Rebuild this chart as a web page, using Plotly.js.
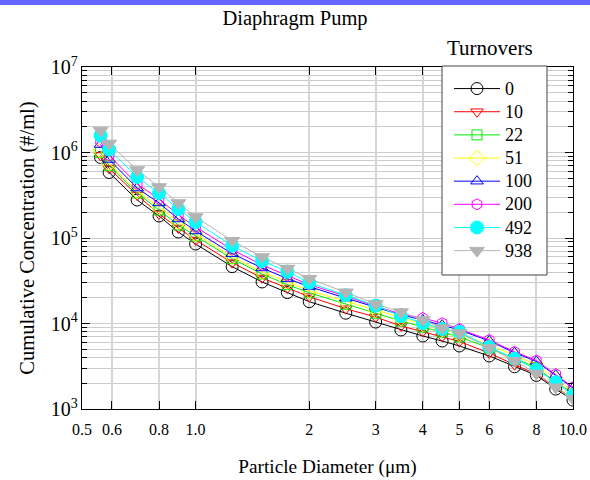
<!DOCTYPE html>
<html>
<head>
<meta charset="utf-8">
<script src="https://cdn.plot.ly/plotly-3.0.1.min.js"></script>
<style>html,body{margin:0;padding:0;background:#fff;}#chart{width:590px;height:480px;}</style>
</head>
<body>
<div id="chart"></div>
<script>
const diameters = [0.56,0.59,0.7,0.8,0.9,1.0,1.25,1.5,1.75,2.0,2.5,3.0,3.5,4.0,4.5,5.0,6.0,7.0,8.0,9.0,10.0];
const turnovers0   = [874000,584000,278000,181000,117600,85100,46200,30600,23000,18000,13200,10400,8400,7140,6240,5460,4170,3120,2470,1710,1270];
const turnovers10  = [922000,651000,318000,191000,131000,94800,51500,34100,26000,20600,14900,11900,9360,8060,7050,6160,4520,3290,2570,1780,1340];
const turnovers22  = [1000000,705000,336000,213000,142000,105500,57300,37900,28500,22900,16800,13200,10700,9100,7950,6960,5170,3870,3060,2060,1530];
const turnovers51  = [1055000,744000,354000,231000,154000,111400,60500,40100,30900,24200,18200,14400,11600,9870,8620,7550,5610,4200,3320,2240,1620];
const turnovers100 = [1240000,829000,384000,257000,167000,120800,65600,44600,33500,27000,19800,15600,12600,11000,9600,8400,6250,4550,3600,2490,1760];
const turnovers200 = [1345000,923000,428000,286000,186000,134500,73000,48400,36400,28500,20900,15900,12900,11600,10100,8630,6420,4670,3700,2560,1800];
const turnovers492 = [1581000,1085000,517000,336000,218500,154000,81300,53900,40500,30000,21400,16200,12200,10100,8620,7960,5310,3870,2900,2060,1450];
const turnovers938 = [1808000,1275000,624000,395000,257000,176000,93000,60000,43900,33400,23200,16900,13600,11000,8850,7750,5170,3670,2610,1800,1320];
const seriesNames = ['0','10','22','51','100','200','492','938'];
const xTickVals = [0.5,0.6,0.8,1,2,3,4,5,6,8,10];
const xTickText = ['0.5','0.6','0.8','1.0','2','3','4','5','6','8','10.0'];

const seriesData = [turnovers0,turnovers10,turnovers22,turnovers51,turnovers100,turnovers200,turnovers492,turnovers938];
const styles = [
  {color:'#000000', symbol:'circle-open', size:12},
  {color:'#ff0000', symbol:'triangle-down-open', size:11},
  {color:'#00ee00', symbol:'square-open', size:10},
  {color:'#ffff00', symbol:'diamond-open', size:12},
  {color:'#0000ff', symbol:'triangle-up-open', size:11},
  {color:'#ff00ff', symbol:'hexagon-open', size:11},
  {color:'#00ffff', symbol:'circle', size:13},
  {color:'#b4b4b4', symbol:'triangle-down', size:13}
];
const traces = seriesData.map((ys,i)=>({
  x: diameters, y: ys, name: '<span style="font-size:18px">' + seriesNames[i] + '</span>', type:'scatter', mode:'lines+markers',
  line:{color:styles[i].color, width:1},
  marker:{color:styles[i].color, symbol:styles[i].symbol, size:styles[i].size, line:{color:styles[i].color, width:1}}
}));

const font = 'Liberation Serif';
// plot area pixel frame: left 82, right 573, top 67, bottom 409
const px = v => (v - 82) / 491;
const py = v => (409 - v) / 342;
const layout = {
  width:590, height:480,
  margin:{l:82, r:17, t:67, b:71, pad:0},
  paper_bgcolor:'#ffffff', plot_bgcolor:'#ffffff',
  font:{family:font, color:'#000', size:16},
  title:{text:'Diaphragm Pump', font:{family:font, size:20.5, color:'#000'}, x:0.5, xref:'container', y:0.962, yanchor:'middle'},
  xaxis:{
    type:'log', range:[Math.log10(0.5), 1], tickmode:'array', tickvals:xTickVals, ticktext:xTickText,
    ticks:'inside', ticklen:8, tickcolor:'#000', showline:true, linecolor:'#000', linewidth:1, mirror:'ticks',
    showgrid:true, gridcolor:'#d6d6d6', gridwidth:2, zeroline:false, ticklabelstandoff:6,
    tickfont:{family:font, size:16, color:'#000'},
    title:{text:'Particle Diameter (μm)', font:{family:font, size:19.3, color:'#000'}, standoff:22}
  },
  yaxis:{
    type:'log', range:[3,7], dtick:1, exponentformat:'power', showexponent:'all',
    ticks:'inside', ticklen:8, tickcolor:'#000', showline:true, linecolor:'#000', linewidth:1, mirror:'ticks',
    showgrid:true, gridcolor:'#cccccc', gridwidth:1, zeroline:false,
    minor:{dtick:'D1', ticks:'inside', ticklen:5, tickcolor:'#000', showgrid:true, gridcolor:'#cccccc', gridwidth:1},
    tickfont:{family:font, size:16, color:'#000'},
    title:{text:'Cumulative Concentration (#/ml)', font:{family:font, size:20.5, color:'#000'}, standoff:10}
  },
  showlegend:true,
  legend:{x:px(449), xanchor:'left', y:py(72), yanchor:'top', bgcolor:'rgba(0,0,0,0)', borderwidth:0,
    font:{family:font, size:15.5, color:'#000'}, itemwidth:46, tracegroupgap:0},
  annotations:[{text:'Turnovers', xref:'paper', yref:'paper', x:px(490), y:py(48), showarrow:false, xanchor:'center', yanchor:'middle', font:{family:font, size:21, color:'#000'}}],
  shapes:[
    {type:'rect', xref:'paper', yref:'paper', x0:px(0), x1:px(590), y0:py(5), y1:py(-2), fillcolor:'#6666ff', line:{width:0}, layer:'above'},
    {type:'rect', xref:'paper', yref:'paper', x0:px(442), x1:px(547), y0:py(275), y1:py(66), fillcolor:'#ffffff', line:{color:'#444444', width:1}, layer:'above'}
  ]
};
Plotly.newPlot('chart', traces, layout, {displayModeBar:false, staticPlot:true});
</script>
</body>
</html>
